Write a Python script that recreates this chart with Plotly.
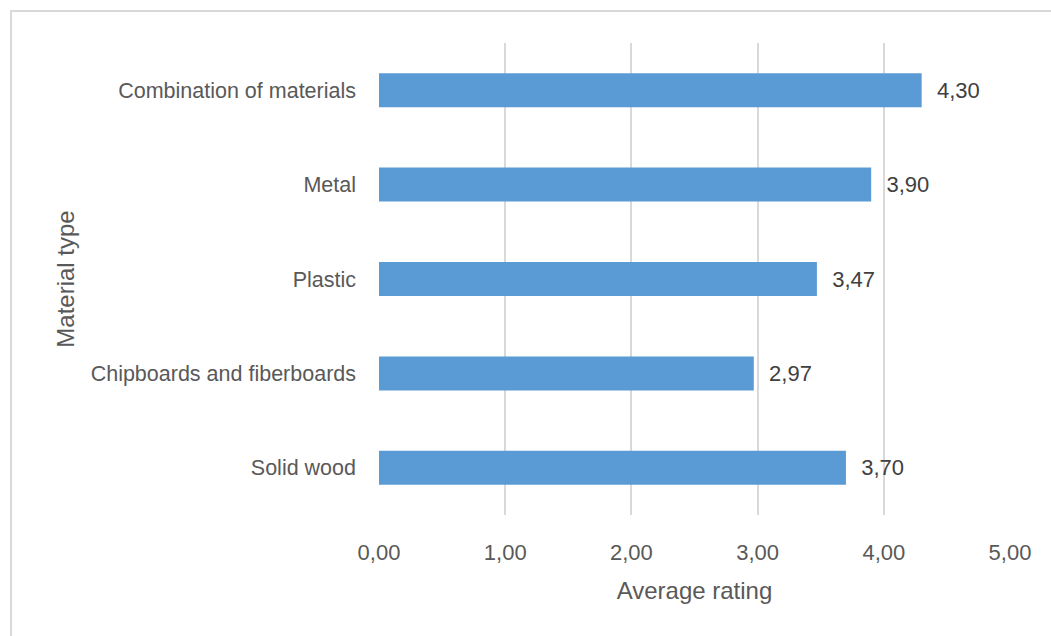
import plotly.graph_objects as go

categories = ["Solid wood", "Chipboards and fiberboards", "Plastic", "Metal", "Combination of materials"]
values = [3.70, 2.97, 3.47, 3.90, 4.30]
x_ticks = [0, 1, 2, 3, 4, 5]

FONT = "Liberation Sans"
W, H = 1051, 636
L, R, T, B = 379, 41, 43, 121
pw, ph = W - L - R, H - T - B

fig = go.Figure(go.Bar(
    x=values, y=categories, orientation="h",
    marker=dict(color="#5B9BD5", line=dict(width=0)),
    texttemplate="\u00a0\u00a0%{x:.2f}", textposition="outside",
    textfont=dict(family=FONT, size=22, color="#404040"),
    cliponaxis=False, width=0.36,
))

fig.update_layout(
    width=W, height=H, separators=",.",
    margin=dict(l=L, r=R, t=T, b=B, pad=0),
    paper_bgcolor="white", plot_bgcolor="white",
    showlegend=False,
    font=dict(family=FONT, size=21, color="#595959"),
    xaxis=dict(range=[0, 5], tickvals=x_ticks, tickformat=".2f",
               tickfont=dict(size=22),
               showgrid=True, gridcolor="#d9d9d9", gridwidth=2,
               zeroline=False, showline=False, ticks="",
               ticklabelstandoff=22,
               title=dict(text="Average rating", standoff=18,
                          font=dict(family=FONT, size=24, color="#595959"))),
    yaxis=dict(categoryorder="array", categoryarray=categories,
               tickfont=dict(size=21.5),
               showgrid=False, zeroline=False, showline=False, ticks="",
               ticklabelstandoff=22,
               title=dict(text="Material type", standoff=9,
                          font=dict(family=FONT, size=24, color="#595959"))),
    shapes=[dict(type="rect", xref="paper", yref="paper",
                 x0=(11 - L) / pw, x1=1.2, y0=-0.5, y1=1 + (T - 11) / ph,
                 line=dict(color="#d9d9d9", width=2), layer="below")],
)

fig.write_html("out.html")
